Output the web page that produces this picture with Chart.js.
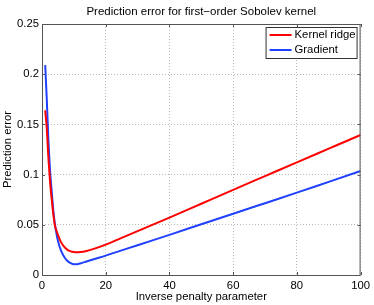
<!DOCTYPE html>
<html>
<head>
<meta charset="utf-8">
<script src="https://cdn.jsdelivr.net/npm/chart.js@4.4.0/dist/chart.umd.min.js"></script>
<style>
  html, body { margin: 0; padding: 0; background: #fff; }
  #wrap { width: 374px; height: 305px; }
</style>
</head>
<body>
<div id="wrap"><canvas id="errChart"></canvas></div>
<script>
/* ---------- data ---------- */
const penalty = [1, 1.5, 2, 2.5, 3, 3.5, 4, 4.5, 5, 6, 7, 8, 9, 10, 11, 12, 14, 16, 20, 25, 30, 40, 50, 60, 70, 80, 90, 100];
const kernelRidge = [0.164, 0.146, 0.117, 0.094, 0.077, 0.062, 0.050, 0.0445, 0.040, 0.0325, 0.028, 0.025, 0.0235, 0.0228, 0.0226, 0.0228, 0.0240, 0.0258, 0.0303, 0.0370, 0.0437, 0.0572, 0.0710, 0.0848, 0.0985, 0.1122, 0.1258, 0.1394];
const gradient = [0.209, 0.175, 0.135, 0.105, 0.085, 0.066, 0.052, 0.042, 0.034, 0.024, 0.018, 0.0140, 0.0118, 0.0107, 0.0108, 0.0115, 0.0135, 0.0155, 0.0193, 0.0245, 0.0297, 0.0400, 0.0505, 0.0610, 0.0715, 0.0820, 0.0928, 0.1036];
const seriesNames = ['Kernel ridge', 'Gradient'];
const xTicks = [0, 20, 40, 60, 80, 100];
const yTicks = [0, 0.05, 0.1, 0.15, 0.2, 0.25];
const yTickLabels = ['0', '0.05', '0.1', '0.15', '0.2', '0.25'];

const FONT = 'Liberation Sans, Arial, Helvetica, sans-serif';
const AXIS = '#555';

function points(ys) {
  return penalty.map((x, i) => ({ x, y: ys[i] }));
}

/* box, inward ticks, legend and centred title (matlab look) */
const matlabFrame = {
  id: 'matlabFrame',
  afterLayout(chart) {
    const t = chart.titleBlock;
    if (t) { t.left = chart.chartArea.left; t.right = chart.chartArea.right; }
  },
  afterDraw(chart) {
    const { ctx, chartArea: a, scales } = chart;
    ctx.save();
    ctx.strokeStyle = AXIS;
    ctx.lineWidth = 1;
    ctx.strokeRect(a.left + 0.5, a.top + 0.5, a.right - a.left - 1, a.bottom - a.top);

    ctx.beginPath();
    xTicks.forEach(v => {
      const px = Math.round(scales.x.getPixelForValue(v)) + 0.5;
      ctx.moveTo(px, a.bottom); ctx.lineTo(px, a.bottom - 3);
      ctx.moveTo(px, a.top); ctx.lineTo(px, a.top + 3);
    });
    yTicks.forEach(v => {
      const py = Math.round(scales.y.getPixelForValue(v)) + 0.5;
      ctx.moveTo(a.left, py); ctx.lineTo(a.left + 3, py);
      ctx.moveTo(a.right, py); ctx.lineTo(a.right - 3, py);
    });
    ctx.stroke();

    // legend
    const w = 91, h = 31;
    const lx = a.right - 4 - w, ly = a.top + 3;
    ctx.fillStyle = '#fff';
    ctx.fillRect(lx, ly, w, h);
    ctx.strokeStyle = '#333';
    ctx.strokeRect(lx + 0.5, ly + 0.5, w, h);
    ctx.font = '11.3px ' + FONT;
    ctx.textBaseline = 'middle';
    chart.data.datasets.forEach((ds, i) => {
      const y = ly + 8 + i * 15;
      ctx.strokeStyle = ds.borderColor;
      ctx.lineWidth = 2;
      ctx.beginPath();
      ctx.moveTo(lx + 4, y); ctx.lineTo(lx + 26, y);
      ctx.stroke();
      ctx.fillStyle = '#000';
      ctx.fillText(ds.label, lx + 29, y);
    });
    ctx.restore();
  }
};

new Chart(document.getElementById('errChart'), {
  type: 'line',
  data: {
    datasets: [
      {
        label: seriesNames[0],
        data: points(kernelRidge),
        borderColor: '#ff0000',
        borderWidth: 2,
        pointRadius: 0,
        cubicInterpolationMode: 'monotone',
        fill: false
      },
      {
        label: seriesNames[1],
        data: points(gradient),
        borderColor: '#2040ff',
        borderWidth: 2,
        pointRadius: 0,
        cubicInterpolationMode: 'monotone',
        fill: false
      }
    ]
  },
  options: {
    responsive: true,
    maintainAspectRatio: false,
    animation: false,
    layout: { padding: { left: 0, right: 12, top: 0, bottom: 0 } },
    plugins: {
      legend: { display: false },
      tooltip: { enabled: false },
      title: {
        display: true,
        text: 'Prediction error for first\u2212order Sobolev kernel',
        color: '#000',
        font: { size: 11.5, family: FONT, weight: 'normal' },
        padding: { top: 5, bottom: 5.2 }
      }
    },
    scales: {
      x: {
        type: 'linear',
        min: 0,
        max: 100,
        afterBuildTicks: s => { s.ticks = xTicks.map(v => ({ value: v })); },
        afterFit: s => { s.height = 30; },
        ticks: {
          color: '#000', padding: 4, font: { size: 11.3, family: FONT },
          callback: (v, i) => String(xTicks[i])
        },
        grid: { color: '#b8b8b8', drawTicks: false },
        border: { display: false, dash: [1, 2] },
        title: {
          display: true,
          text: 'Inverse penalty parameter',
          color: '#000',
          font: { size: 11.3, family: FONT },
          padding: { top: 0, bottom: 1.5 }
        }
      },
      y: {
        type: 'linear',
        min: 0,
        max: 0.25,
        afterBuildTicks: s => { s.ticks = yTicks.map(v => ({ value: v })); },
        afterFit: s => { s.width = 42; },
        ticks: {
          color: '#000', padding: 3, font: { size: 11.3, family: FONT },
          callback: (v, i) => yTickLabels[i]
        },
        grid: { color: '#b8b8b8', drawTicks: false },
        border: { display: false, dash: [1, 2] },
        title: {
          display: true,
          text: 'Prediction error',
          color: '#000',
          font: { size: 11.3, family: FONT },
          padding: { top: 1, bottom: 0 }
        }
      }
    }
  },
  plugins: [matlabFrame]
});
</script>
</body>
</html>
